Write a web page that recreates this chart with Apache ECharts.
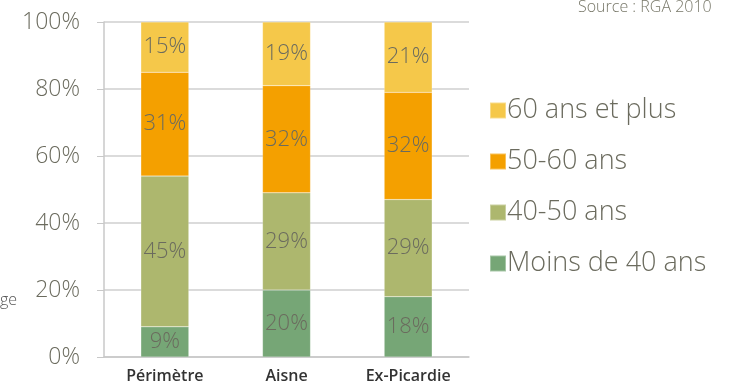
<!DOCTYPE html>
<html><head><meta charset="utf-8">
<script src="https://cdn.jsdelivr.net/npm/echarts@6/dist/echarts.min.js"></script>
<style>html,body{margin:0;padding:0;background:#fff}#c{width:731px;height:385px}</style>
</head><body><div id="c"></div>
<script>
const categories = ['Périmètre', 'Aisne', 'Ex-Picardie'];
const seriesNames = ['Moins de 40 ans', '40-50 ans', '50-60 ans', '60 ans et plus'];
const moins40 = [9, 20, 18];
const de40a50 = [45, 29, 29];
const de50a60 = [31, 32, 32];
const plus60 = [15, 19, 21];
const yTicks = [0, 20, 40, 60, 80, 100];
const colors = ['#76a676', '#adb76e', '#f4a000', '#f5c84a'];
const values = [moins40, de40a50, de50a60, plus60];
const FONT = '"Open Sans"';
const txt = '#6b6b5e';

const chart = echarts.init(document.getElementById('c'));
chart.setOption({
  animation: false,
  textStyle: { fontFamily: FONT },
  grid: { left: 104, right: 262, top: 22, bottom: 28, containLabel: false },
  graphic: [
    { type: 'text', left: 578, top: -1, style: { text: 'Source : RGA 2010', fill: '#777768', font: '300 16px ' + FONT } },
    { type: 'text', left: 0, top: 292, style: { text: 'ge', fill: '#555', font: '300 16px ' + FONT } }
  ],
  legend: {
    orient: 'vertical', left: 484, top: 92, itemGap: 24,
    itemWidth: 16, itemHeight: 16, icon: 'rect',
    data: seriesNames.slice().reverse(),
    textStyle: { fontSize: 27, color: txt, fontWeight: 300, padding: [0,0,0,-4] }
  },
  xAxis: {
    type: 'category', data: categories,
    axisLine: { lineStyle: { color: '#c8c8c8', width: 1.5 } },
    axisTick: { show: false },
    axisLabel: { fontSize: 16, color: '#333', fontWeight: 600, margin: 11 }
  },
  yAxis: {
    type: 'value', min: 0, max: 100, interval: 20,
    axisLine: { show: true, lineStyle: { color: '#c8c8c8', width: 1.5 } },
    axisTick: { show: true, length: 7, lineStyle: { color: '#c8c8c8' } },
    splitLine: { lineStyle: { color: '#cfcfcf', width: 1.5 } },
    axisLabel: { fontSize: 23, color: txt, fontWeight: 300, margin: 24,
      formatter: v => yTicks.includes(v) ? v + '%' : '' }
  },
  series: seriesNames.map((n, i) => ({
    name: n, type: 'bar', stack: 'all', barWidth: 48,
    data: values[i],
    itemStyle: { color: colors[i], borderColor: 'rgba(255,255,255,0.35)', borderWidth: 0.5 },
    label: { show: true, position: 'inside', formatter: '{c}%', fontSize: 22, color: '#6b6b5e', fontWeight: 300 }
  }))
});
</script></body></html>
